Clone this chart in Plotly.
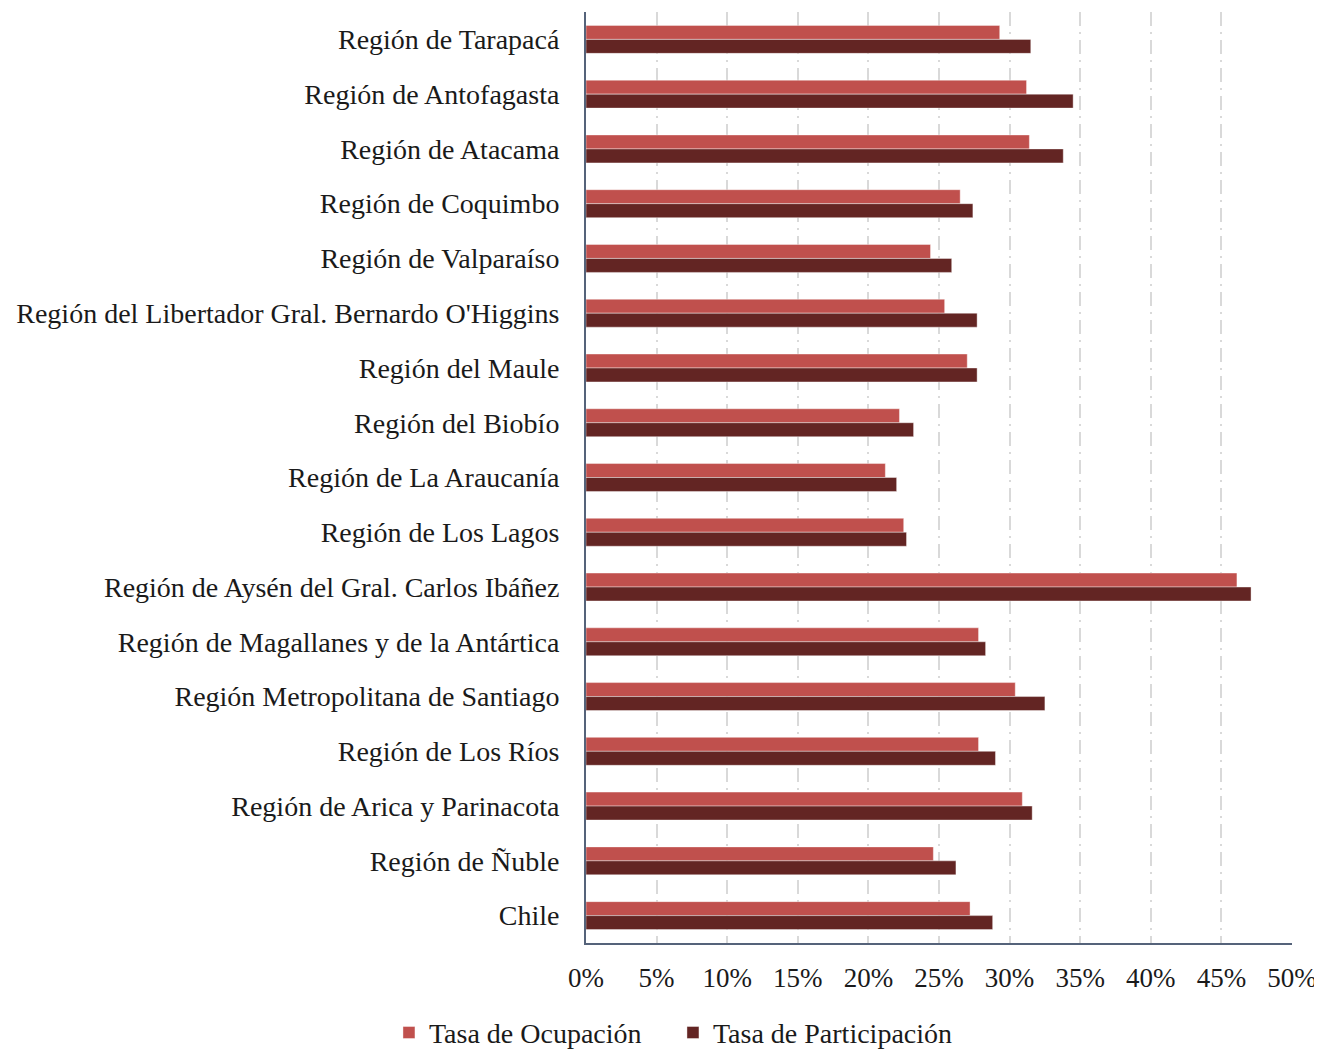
import plotly.graph_objects as go

regiones = [
    "Región de Tarapacá",
    "Región de Antofagasta",
    "Región de Atacama",
    "Región de Coquimbo",
    "Región de Valparaíso",
    "Región del Libertador Gral. Bernardo O'Higgins",
    "Región del Maule",
    "Región del Biobío",
    "Región de La Araucanía",
    "Región de Los Lagos",
    "Región de Aysén del Gral. Carlos Ibáñez",
    "Región de Magallanes y de la Antártica",
    "Región Metropolitana de Santiago",
    "Región de Los Ríos",
    "Región de Arica y Parinacota",
    "Región de Ñuble",
    "Chile",
]

tasa_ocupacion = [0.293, 0.312, 0.314, 0.265, 0.244, 0.254, 0.270, 0.222, 0.212,
                  0.225, 0.461, 0.278, 0.304, 0.278, 0.309, 0.246, 0.272]
tasa_participacion = [0.315, 0.345, 0.338, 0.274, 0.259, 0.277, 0.277, 0.232, 0.220,
                      0.227, 0.471, 0.283, 0.325, 0.290, 0.316, 0.262, 0.288]

x_ticks = [0, 0.05, 0.10, 0.15, 0.20, 0.25, 0.30, 0.35, 0.40, 0.45, 0.50]

FONT = "Liberation Serif"

fig = go.Figure()
fig.add_trace(go.Bar(
    y=regiones, x=tasa_ocupacion, orientation="h", name="Tasa de Ocupación",
    marker=dict(color="#C0504D", line=dict(color="rgba(255,255,255,0.4)", width=1)),
))
fig.add_trace(go.Bar(
    y=regiones, x=tasa_participacion, orientation="h", name="Tasa de Participación",
    marker=dict(color="#632523", line=dict(color="rgba(255,255,255,0.4)", width=1)),
))

# the page body adds an 8px margin, so margins are shifted to compensate
fig.update_layout(
    width=1322, height=1050,
    barmode="group", bargap=0.49, bargroupgap=0,
    plot_bgcolor="white", paper_bgcolor="white",
    margin=dict(l=578, r=38, t=4, b=115),
    font=dict(family=FONT, size=28, color="#1a1a1a"),
    legend=dict(orientation="h", xref="container", yref="container",
                x=0.503, xanchor="center", y=0.024, yanchor="middle",
                font=dict(size=28), itemwidth=30, entrywidth=239,
                traceorder="normal"),
)
fig.update_xaxes(
    range=[0, 0.5], tickvals=x_ticks, tickformat=".0%",
    tickfont=dict(size=27),
    showgrid=True, gridcolor="#D9D9D9", gridwidth=2, griddash="14px,6px,2px,6px",
    showline=True, linecolor="#55637A", linewidth=2,
    ticks="outside", ticklen=10, tickcolor="rgba(0,0,0,0)",
    zeroline=False, automargin=False,
)
fig.update_yaxes(
    autorange="reversed",
    showline=True, linecolor="#55637A", linewidth=2,
    ticks="outside", ticklen=19, tickcolor="rgba(0,0,0,0)",
    showgrid=False, automargin=False,
)

fig.write_html("out.html")
